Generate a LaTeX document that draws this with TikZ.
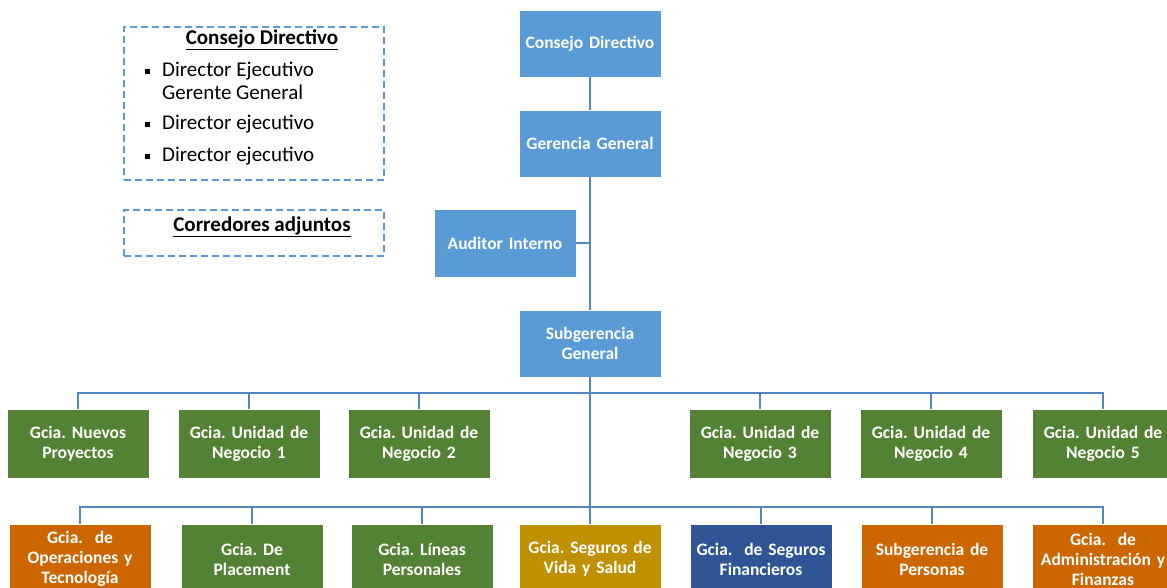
\documentclass[tikz,border=0pt]{standalone}
\usepackage{fontspec}
\setmainfont{Carlito}
\definecolor{bxblue}{RGB}{91,155,213}
\definecolor{bxgreen}{RGB}{84,130,53}
\definecolor{bxorange}{RGB}{204,102,0}
\definecolor{bxgold}{RGB}{191,144,0}
\definecolor{bxnavy}{RGB}{47,85,151}
\definecolor{lnblue}{RGB}{80,135,195}
\definecolor{dashblue}{RGB}{91,155,213}
\tikzset{
  orgbox/.style={draw=white, line width=0.6pt, minimum width=140pt, minimum height=68pt, inner sep=2pt,
    text=white, font=\fontsize{17.5}{20}\selectfont\bfseries\frenchspacing, align=center, text width=138pt},
  conn/.style={draw=lnblue, line width=1.8pt},
  legbox/.style={draw=dashblue, line width=1.1pt, dash pattern=on 7pt off 4pt},
  legtext/.style={font=\fontsize{21}{21}\selectfont, text=black, inner sep=0pt, anchor=west},
  legtitle/.style={font=\fontsize{21}{21}\selectfont\bfseries, text=black, inner sep=0pt},
  bul/.style={fill=black, minimum size=5pt, inner sep=0pt}
}
\begin{document}
\begin{tikzpicture}[x=1pt,y=-1pt]
\useasboundingbox (0,0) rectangle (1167,587);
\clip (0,0) rectangle (1167,587);
% top chain
\node[orgbox, fill=bxblue, minimum height=67pt] (cd) at (590,43.5) {Consejo Directivo};
\node[orgbox, fill=bxblue, minimum height=67pt] (gg) at (590,143.5) {Gerencia General};
\node[orgbox, fill=bxblue] (ai) at (505,243) {Auditor Interno};
\node[orgbox, fill=bxblue, minimum height=67pt] (sg) at (590,343.5) {Subgerencia\\General};
% row 1
\node[orgbox, fill=bxgreen, minimum height=69pt] (r1a) at (78,443.5) {Gcia. Nuevos\\Proyectos};
\node[orgbox, fill=bxgreen, minimum height=69pt] (r1b) at (249,443.5) {Gcia. Unidad de\\Negocio 1};
\node[orgbox, fill=bxgreen, minimum height=69pt] (r1c) at (419,443.5) {Gcia. Unidad de\\Negocio 2};
\node[orgbox, fill=bxgreen, minimum height=69pt] (r1d) at (760,443.5) {Gcia. Unidad de\\Negocio 3};
\node[orgbox, fill=bxgreen, minimum height=69pt] (r1e) at (931,443.5) {Gcia. Unidad de\\Negocio 4};
\node[orgbox, fill=bxgreen, minimum height=69pt] (r1f) at (1103,443.5) {Gcia. Unidad de\\Negocio 5};
% row 2
\node[orgbox, fill=bxorange, minimum height=70pt] (r2a) at (80,559) {Gcia.\ \ de\\Operaciones y\\Tecnología};
\node[orgbox, fill=bxgreen, minimum height=70pt] (r2b) at (252,559) {Gcia. De\\Placement};
\node[orgbox, fill=bxgreen, minimum height=70pt] (r2c) at (422,559) {Gcia. Líneas\\Personales};
\node[orgbox, fill=bxgold, minimum height=70pt] (r2d) at (590,559) {Gcia. Seguros de\\Vida y Salud};
\node[orgbox, fill=bxnavy, minimum height=70pt] (r2e) at (761,559) {Gcia.\ \ de Seguros\\Financieros};
\node[orgbox, fill=bxorange, minimum height=70pt] (r2f) at (932,559) {Subgerencia de\\Personas};
\node[orgbox, fill=bxorange, minimum height=70pt] (r2g) at (1103,559) {Gcia.\ \ de\\Administración y\\Finanzas};
% connectors
\draw[conn] (cd.south) -- (gg.north);
\draw[conn] (gg.south) -- (sg.north);
\draw[conn] (ai.east) -- (ai.east -| gg.south);
\draw[conn] (sg.south) -- (r2d.north);
\draw[conn] (r1a.north) -- ++(0,-16) -| (r1f.north);
\foreach \n in {r1b,r1c,r1d,r1e} \draw[conn] (\n.north) -- ++(0,-16);
\draw[conn] (r2a.north) -- ++(0,-17) -| (r2g.north);
\foreach \n in {r2b,r2c,r2e,r2f} \draw[conn] (\n.north) -- ++(0,-17);
% legend
\node[legbox, minimum width=260pt, minimum height=153pt, inner sep=0pt] (leg1) at (254,103.5) {};
\node[legbox, minimum width=260pt, minimum height=46pt, inner sep=0pt] (leg2) at (254,233) {};
\node[legtitle] (lt1) at (262,40) {\underline{Consejo Directivo}};
\node[bul] (b1) at (147,71) {};
\node[legtext] (l1) at (162,71) {Director Ejecutivo};
\node[legtext] (l1b) at (162,92) {Gerente General};
\node[bul] (b2) at (147,124) {};
\node[legtext] (l2) at (162,124) {Director ejecutivo};
\node[bul] (b3) at (147,156) {};
\node[legtext] (l3) at (162,156) {Director ejecutivo};
\node[legtitle] (lt2) at (262,227) {\underline{Corredores adjuntos}};
\end{tikzpicture}
\end{document}
